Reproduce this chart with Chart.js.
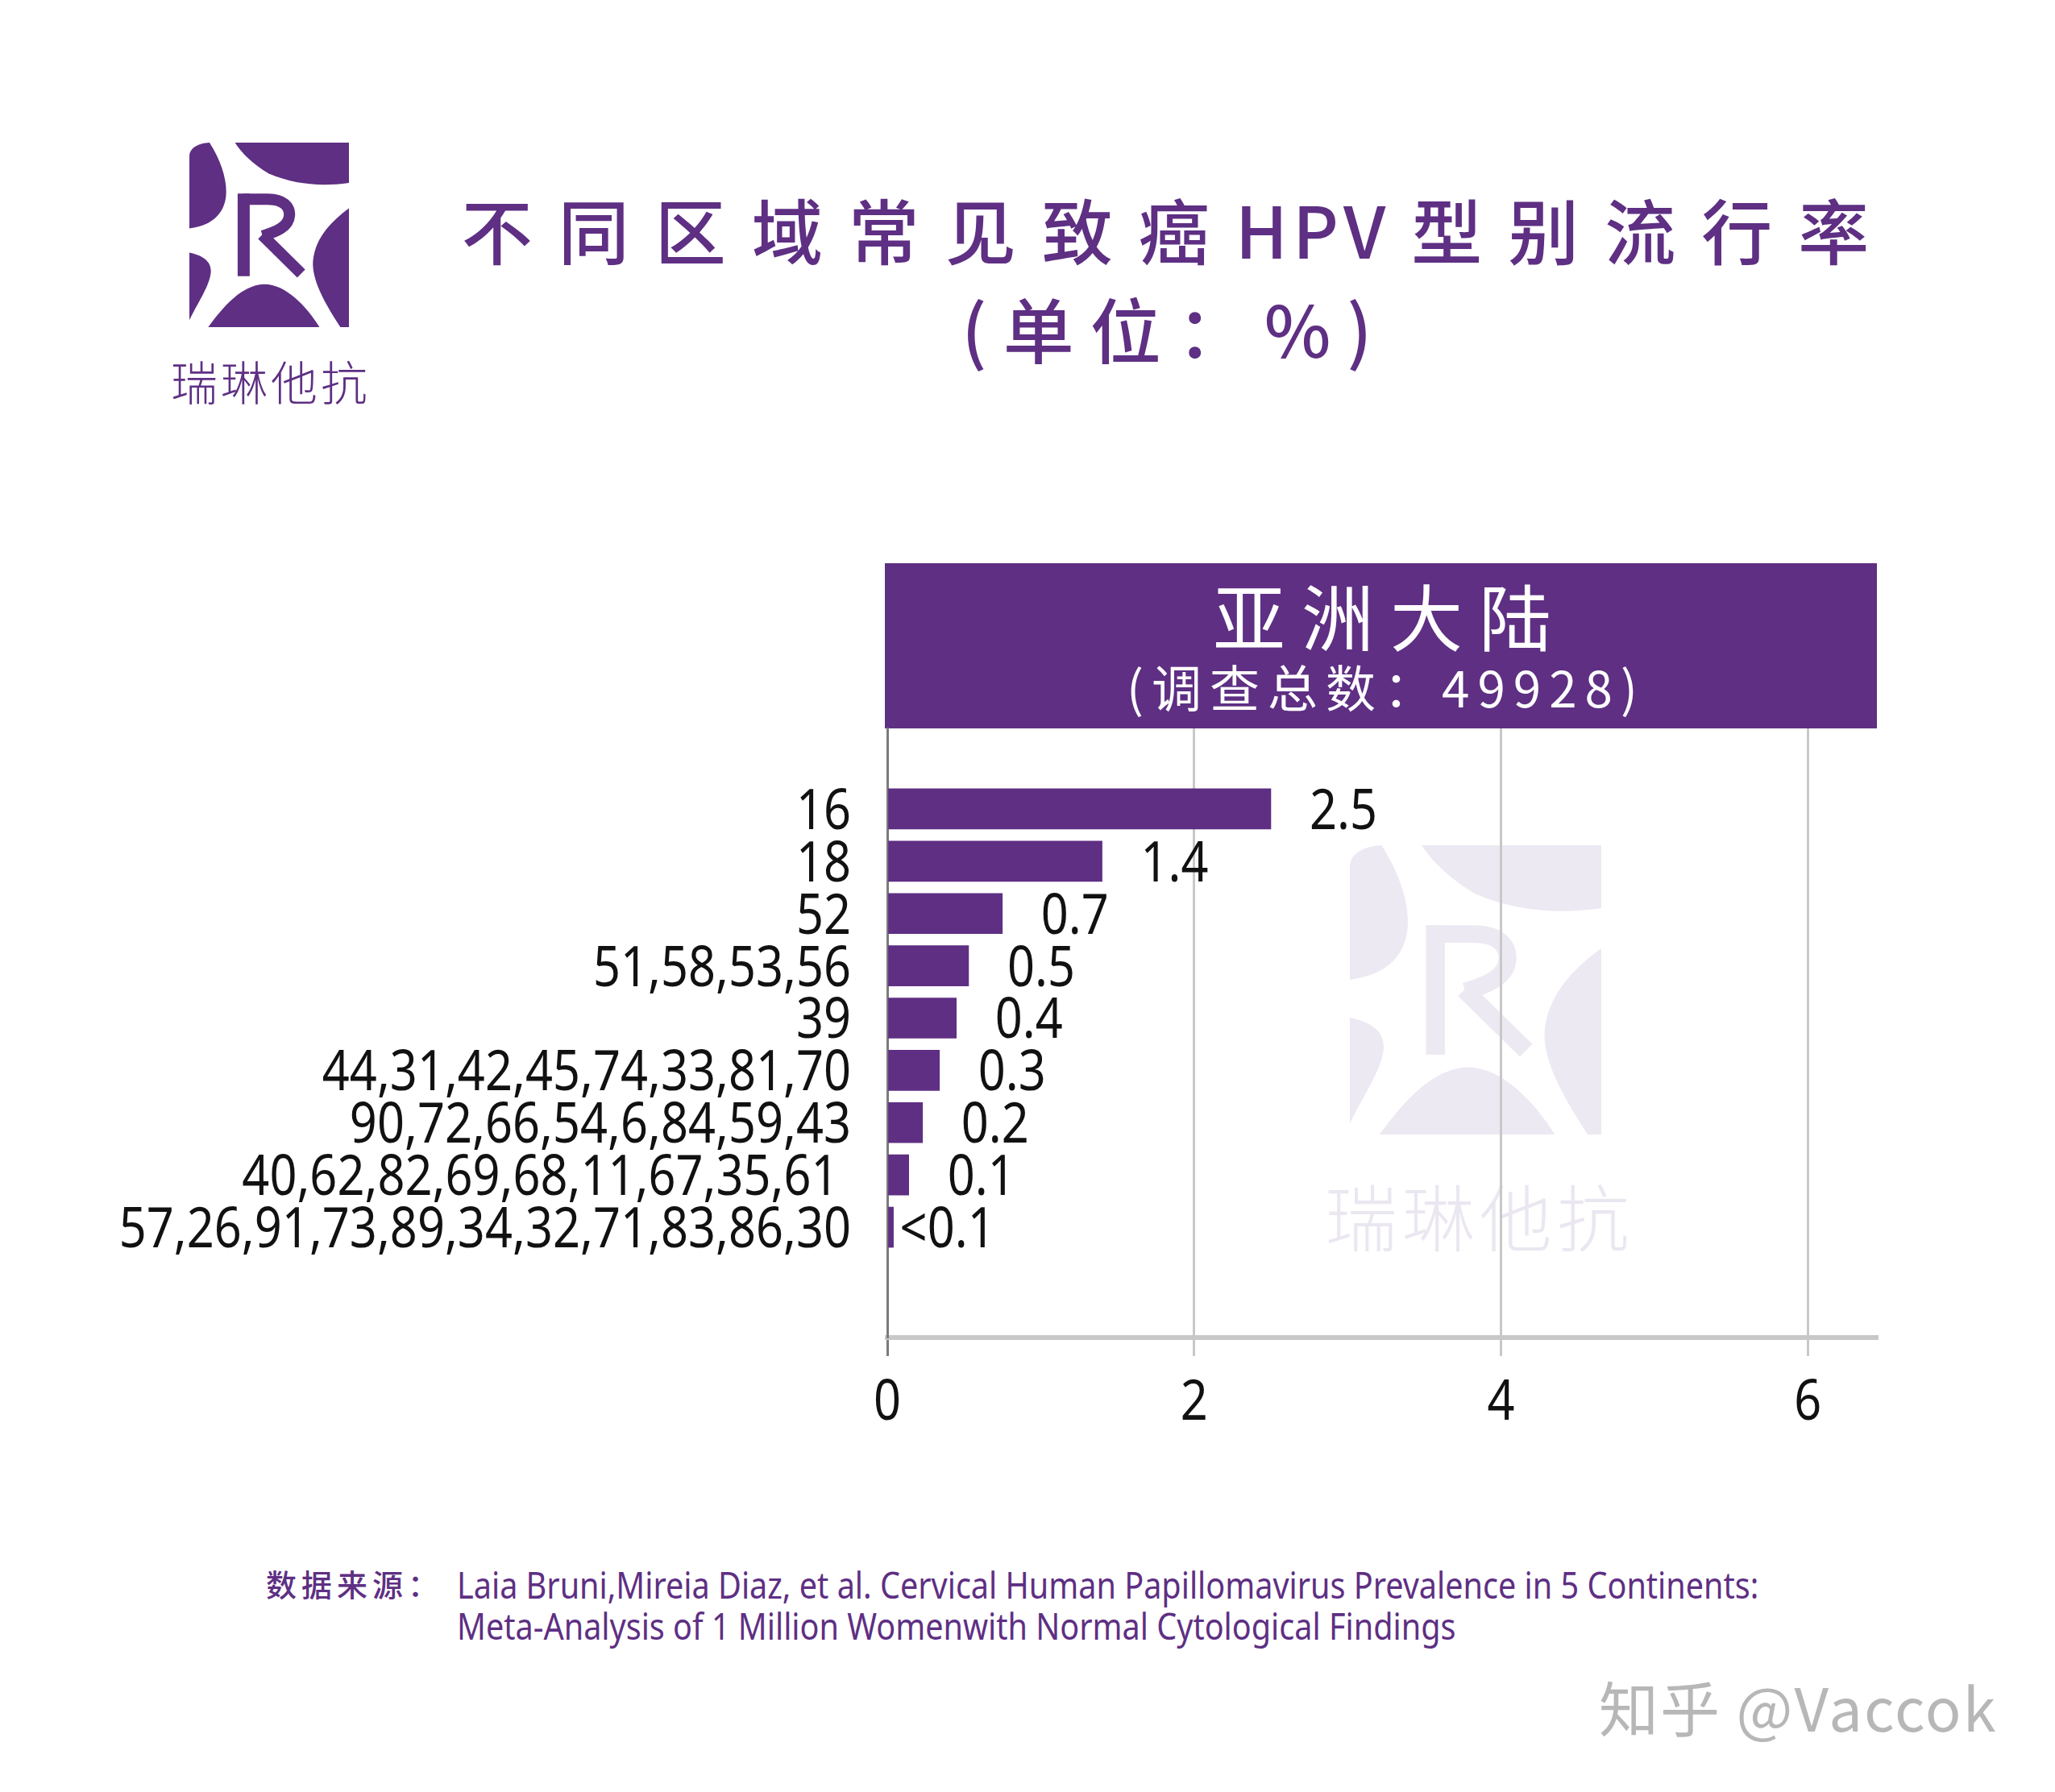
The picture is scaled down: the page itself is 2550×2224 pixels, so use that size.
<!DOCTYPE html>
<html>
<head>
<meta charset="utf-8">
<title>不同区域常见致癌HPV型别流行率</title>
<script src="https://cdn.jsdelivr.net/npm/chart.js@4.4.1/dist/chart.umd.min.js"></script>
<style>
  html, body { margin: 0; padding: 0; background: #fff; }
  body { width: 2550px; height: 2224px; position: relative; overflow: hidden; }
  .abs { position: absolute; white-space: nowrap; }
  .cjk { font-family: 'Noto Sans CJK SC', sans-serif; }
  .narrow { font-family: 'Noto Sans', sans-serif; transform: scaleX(0.86); transform-origin: 0 0; }
  #chart { position: absolute; left: 0; top: 0; z-index: 2; }
  .purple { color: #5e2f83; }
</style>
</head>
<body>

<!-- logo top left -->
<div id="logo" class="abs" style="left:235px; top:177px; width:198px; height:229px;"></div>
<div class="abs cjk purple" style="left:136px; width:400px; text-align:center; top:437px; height:70px; line-height:70px; font-size:58px; font-weight:300; letter-spacing:4px;">瑞琳他抗</div>

<!-- watermark, sits behind the canvas -->
<div id="wmLogo" class="abs" style="left:1675px; top:1049px; width:312px; height:359px; z-index:1;"></div>
<div class="abs cjk" style="left:1636px; width:400px; text-align:center; top:1452px; height:110px; line-height:110px; font-size:90px; font-weight:300; letter-spacing:6px; color:#ebe7f1; z-index:1;">瑞琳他抗</div>

<!-- title -->
<div class="abs cjk purple" style="left:462px; width:2000px; text-align:center; top:233px; height:100px; line-height:100px; font-size:88px; font-weight:500; letter-spacing:32px;">不同区域常见致癌<span style="letter-spacing:6px; margin-right:26px;">HPV</span>型别流行率</div>
<div class="abs cjk purple" style="left:458px; width:2000px; text-align:center; top:356px; height:100px; line-height:100px; font-size:88px; font-weight:500; letter-spacing:20px;">(单位：%)</div>

<canvas id="chart" width="2550" height="2224"></canvas>

<!-- source -->
<div class="abs cjk purple" style="left:330px; top:1935px; height:60px; line-height:60px; font-size:38px; font-weight:500; letter-spacing:6px;">数据来源：</div>
<div class="abs narrow purple" style="left:567px; top:1941px; line-height:51px; font-size:46px;">
  Laia Bruni,Mireia Diaz, et al. Cervical Human Papillomavirus Prevalence in 5 Continents:<br>
  Meta-Analysis of 1 Million Womenwith Normal Cytological Findings
</div>

<div class="abs cjk" style="left:1984px; top:2072px; height:90px; line-height:90px; font-size:74px; font-weight:400; letter-spacing:2px; color:#b7b7b7;">知乎 @Vaccok</div>

<script>
// HPV types grouped by prevalence, Asia
const categories = [
  '16',
  '18',
  '52',
  '51,58,53,56',
  '39',
  '44,31,42,45,74,33,81,70',
  '90,72,66,54,6,84,59,43',
  '40,62,82,69,68,11,67,35,61 ',
  '57,26,91,73,89,34,32,71,83,86,30'
];
// bar lengths as drawn (%)
const prevalence = [2.5, 1.4, 0.75, 0.53, 0.45, 0.34, 0.23, 0.14, 0.04];
// text printed next to each bar
const valueLabels = ['2.5', '1.4', '0.7', '0.5', '0.4', '0.3', '0.2', '0.1', '<0.1'];
const regionTitle = '亚洲大陆';
const regionSample = '(调查总数：49928)';

const PURPLE = '#5e2f83';
const LABEL_FONT = "'Noto Sans', sans-serif";
// the original uses a narrow face; none is installed, so latin labels get squeezed
const SQUEEZE = 0.85;

function logoSvg(color) {
  return `<svg viewBox="105 80 595 688" width="100%" height="100%" preserveAspectRatio="none" xmlns="http://www.w3.org/2000/svg">
    <g fill="${color}">
      <path d="M275 80 H700 V230 C600 244 500 238 400 195 C340 158 300 120 275 80 Z"/>
      <path d="M105 400 V130 C105 100 140 82 180 80 C225 150 250 230 240 290 C228 355 180 390 105 400 Z"/>
      <path d="M105 490 C160 502 188 525 185 565 C180 615 132 685 105 742 Z"/>
      <path d="M175 768 C232 690 300 612 382 608 C462 606 540 688 590 768 Z"/>
      <path d="M700 325 C640 370 575 430 566 520 C560 590 610 680 668 768 H700 Z"/>
      <rect x="285" y="270" width="45" height="308"/>
    </g>
    <g fill="none" stroke="${color}" stroke-width="42">
      <path d="M306 291 H398 C455 291 480 318 478 352 C475 394 430 412 378 428"/>
      <path d="M376 424 L522 568"/>
    </g>
  </svg>`;
}
document.getElementById('logo').innerHTML = logoSvg(PURPLE);
document.getElementById('wmLogo').innerHTML = logoSvg('#ede9f3');

// squeeze non-CJK text horizontally around its anchor point
const squeezePlugin = {
  id: 'squeeze',
  beforeInit(chart) {
    const ctx = chart.ctx;
    const base = ctx.fillText;
    ctx.fillText = function (text, x, y, maxWidth) {
      if (this.font.indexOf('CJK') !== -1) {
        return maxWidth === undefined ? base.call(this, text, x, y) : base.call(this, text, x, y, maxWidth);
      }
      this.save();
      this.translate(x, y + 5);
      this.scale(SQUEEZE, 1);
      if (maxWidth === undefined) base.call(this, text, 0, 0);
      else base.call(this, text, 0, 0, maxWidth / SQUEEZE);
      this.restore();
    };
  }
};

// purple box over the plot with the region name
const headerPlugin = {
  id: 'regionHeader',
  beforeDraw(chart) {
    const {ctx, chartArea} = chart;
    const h = 205;
    const cx = (chartArea.left + chartArea.right) / 2;
    ctx.save();
    ctx.fillStyle = PURPLE;
    ctx.fillRect(chartArea.left - 3, chartArea.top - h, chartArea.right - chartArea.left + 3, h);
    ctx.fillStyle = '#fff';
    ctx.textAlign = 'center';
    ctx.textBaseline = 'middle';
    ctx.font = "400 90px 'Noto Sans CJK SC', sans-serif";
    ctx.letterSpacing = '20px';
    ctx.fillText(regionTitle, cx + 10, chartArea.top - 137);
    ctx.font = "400 62px 'Noto Sans CJK SC', sans-serif";
    ctx.letterSpacing = '10px';
    ctx.fillText(regionSample, cx + 5, chartArea.top - 50);
    ctx.restore();
  }
};

// numbers at the end of the bars
const valueLabelPlugin = {
  id: 'valueLabels',
  afterDatasetsDraw(chart) {
    const ctx = chart.ctx;
    const meta = chart.getDatasetMeta(0);
    ctx.save();
    ctx.font = '70px ' + LABEL_FONT;
    ctx.fillStyle = '#111';
    ctx.textAlign = 'left';
    ctx.textBaseline = 'middle';
    meta.data.forEach((bar, i) => {
      const txt = valueLabels[i];
      const gap = txt.startsWith('<') ? 8 : 48;
      ctx.fillText(txt, bar.x + gap, bar.y);
    });
    ctx.restore();
  }
};

new Chart(document.getElementById('chart'), {
  type: 'bar',
  data: {
    datasets: [{
      data: prevalence.map((v, i) => ({x: v, y: i})),
      backgroundColor: PURPLE,
      barThickness: 50
    }]
  },
  options: {
    indexAxis: 'y',
    responsive: false,
    animation: false,
    devicePixelRatio: 1,
    layout: {padding: {top: 904, right: 221, bottom: 434, left: 0}},
    plugins: {
      legend: {display: false},
      tooltip: {enabled: false},
      title: {display: false}
    },
    scales: {
      x: {
        type: 'linear',
        min: 0,
        max: 6.45,
        afterFit: s => { s.height = 130; },
        grid: {
          color: c => (c.tick && c.tick.value === 0) ? '#7b7b7b' : '#c8c8c8',
          lineWidth: 3,
          tickLength: 23
        },
        border: {color: '#c8c8c8', width: 6},
        ticks: {
          stepSize: 2,
          includeBounds: false,
          padding: 12,
          color: '#111',
          font: {family: LABEL_FONT, size: 70}
        }
      },
      y: {
        type: 'linear',
        reverse: true,
        offset: false,
        min: -1.54,
        max: 10.11,
        afterFit: s => { s.width = 1101; },
        grid: {display: false},
        border: {color: '#7b7b7b', width: 3},
        ticks: {
          stepSize: 1,
          includeBounds: false,
          autoSkip: false,
          padding: 37,
          color: '#111',
          font: {family: LABEL_FONT, size: 70},
          callback: v => (Number.isInteger(v) && categories[v] !== undefined) ? categories[v] : ''
        }
      }
    }
  },
  plugins: [squeezePlugin, headerPlugin, valueLabelPlugin]
});
</script>
</body>
</html>
